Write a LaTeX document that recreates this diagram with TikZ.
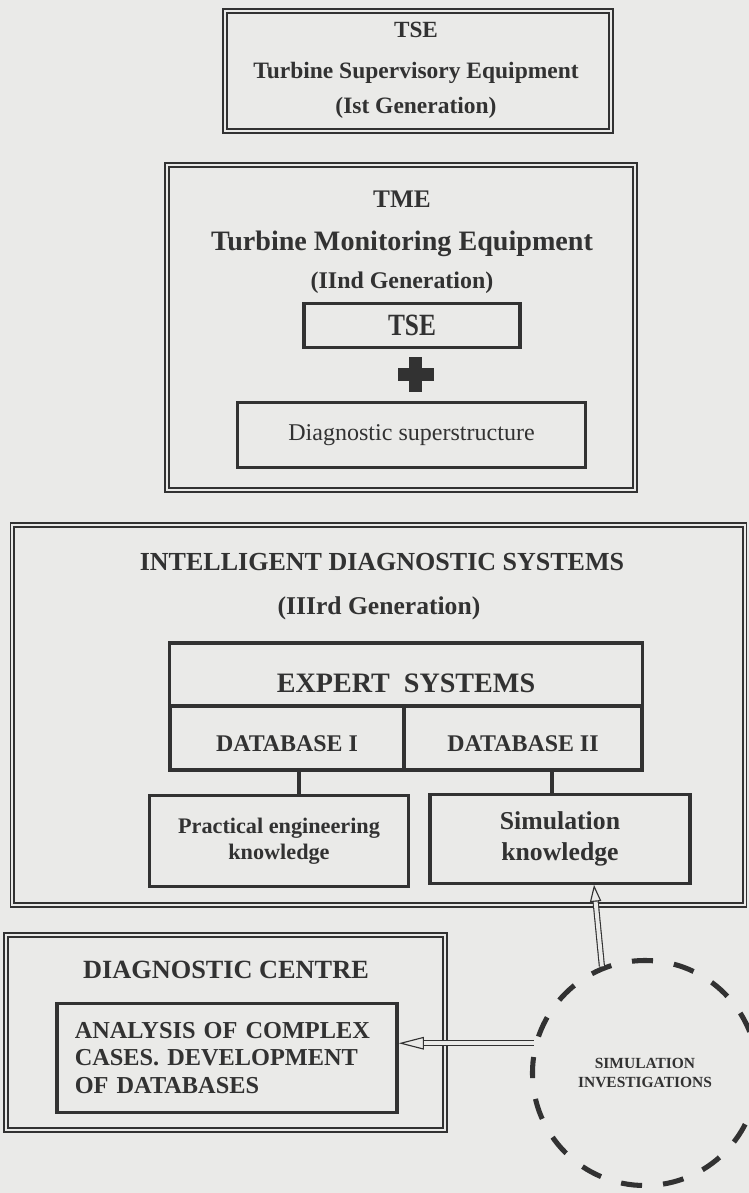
\documentclass[tikz,border=0pt]{standalone}
\usepackage{fontspec}
\setmainfont{Liberation Serif}
\usetikzlibrary{calc,arrows.meta}
\definecolor{dgpaper}{RGB}{234,234,232}
\definecolor{dgink}{RGB}{50,50,50}
\newcommand{\dgsize}[2]{\fontsize{#1}{#2}\selectfont}

\begin{document}
\begin{tikzpicture}[x=0.025cm,y=-0.025cm,
  text=dgink,
  dgframe/.style={draw=dgink,double=dgpaper,double distance=1.5pt,line width=1.1pt,inner sep=0pt},
  blk/.style={draw=dgink,line width=2.5pt,inner sep=0pt,align=center},
  cell/.style={draw=dgink,line width=2.2pt,inner sep=0pt,align=center},
  ttl/.style={anchor=base,inner sep=0pt},
  link/.style={dgink,line width=2.2pt},
  hollow/.style={draw=dgink,double=dgpaper,double distance=2.8pt,line width=0.8pt}]

% ================= PAPER =================
\fill[dgpaper] (0,0) rectangle (749,1193);
\useasboundingbox (0,0) rectangle (749,1193);

% ================= Ist GENERATION =================
\node[dgframe,minimum width=9.65cm,minimum height=3cm] (tse1) at (418,71) {};
\node[ttl,font=\bfseries\dgsize{16.5}{20}] (tse1abbr) at (416,37) {TSE};
\node[ttl,font=\bfseries\dgsize{16.7}{20}] (tse1name) at (416,78) {Turbine Supervisory Equipment};
\node[ttl,font=\bfseries\dgsize{16.7}{20}] (tse1gen) at (416,113) {(Ist Generation)};

% ================= IInd GENERATION =================
\node[dgframe,minimum width=11.7cm,minimum height=8.125cm] (tme) at (401,327.5) {};
\node[ttl,font=\bfseries\dgsize{18}{22}] (tmeabbr) at (402,207) {TME};
\node[ttl,font=\bfseries\dgsize{20}{24}] (tmename) at (402,250) {Turbine Monitoring Equipment};
\node[ttl,font=\bfseries\dgsize{17}{20}] (tmegen) at (402,288) {(IInd Generation)};
\node[blk,minimum width=5.4cm,minimum height=1.1cm,font=\bfseries\dgsize{22}{26}] (tse2) at (412,325.5) {\scalebox{0.82}[1]{TSE}};
\fill[dgink] (409,357) rectangle (422,392);
\fill[dgink] (398,368) rectangle (434,381);
\node[blk,minimum width=8.7cm,minimum height=1.625cm,font=\dgsize{17.1}{20}] (diag) at (411.5,435) {Diagnostic superstructure};

% ================= IIIrd GENERATION =================
\node[dgframe,minimum width=18.3cm,minimum height=9.5cm] (ids) at (378.5,715) {};
\node[ttl,font=\bfseries\dgsize{18.5}{22}] (idsname) at (382,570) {INTELLIGENT DIAGNOSTIC SYSTEMS};
\node[ttl,font=\bfseries\dgsize{18.2}{22}] (idsgen) at (379,614) {(IIIrd Generation)};

\node[cell,minimum width=11.8cm,minimum height=1.575cm,text height=25pt,text depth=0pt,font=\bfseries\dgsize{20}{24}] (es) at (406,674.5) {EXPERT\ \ SYSTEMS};
\node[cell,minimum width=5.85cm,minimum height=1.6cm,text height=19.8pt,text depth=0pt,font=\bfseries\dgsize{17}{20}] (db1) at (287,738) {DATABASE I};
\node[cell,minimum width=5.95cm,minimum height=1.6cm,text height=19.8pt,text depth=0pt,font=\bfseries\dgsize{17}{20}] (db2) at (523,738) {DATABASE II};

\node[cell,minimum width=6.46cm,minimum height=2.29cm,font=\bfseries\dgsize{15.8}{18.5}] (prac) at (279,841) {Practical engineering\\knowledge};
\node[cell,minimum width=6.5cm,minimum height=2.2125cm,font=\bfseries\dgsize{18.3}{22}] (sim) at (560,839) {Simulation\\knowledge};

\coordinate (leg1) at ($(db1.south)+(12,0)$);
\coordinate (leg2) at ($(db2.south)+(29,0)$);
\draw[link] (leg1) -- (leg1 |- prac.north);
\draw[link] (leg2) -- (leg2 |- sim.north);

% ================= DIAGNOSTIC CENTRE =================
\node[dgframe,minimum width=10.975cm,minimum height=4.875cm] (dc) at (225.5,1032.5) {};
\node[ttl,font=\bfseries\dgsize{18.7}{22}] (dcname) at (226,978) {DIAGNOSTIC CENTRE};
\node[blk,minimum width=8.49cm,minimum height=2.725cm,text width=7.61cm,align=left,font=\bfseries\dgsize{17.3}{19.6}] (ana) at (227,1058) {ANALYSIS OF COMPLEX\\CASES. DEVELOPMENT\\OF DATABASES};

% ================= SIMULATION =================
\node[circle,draw=dgink,line width=3.6pt,dash pattern=on 15pt off 15pt,minimum size=5.625cm,inner sep=0pt,align=center,font=\bfseries\dgsize{11}{13}] (simcirc) at (645,1073) {SIMULATION\\INVESTIGATIONS};

\draw[hollow,-{Triangle[open,length=18pt,width=9pt]}] (simcirc.165) -- (simcirc.165 -| ana.east);
\draw[hollow,-{Triangle[open,length=12pt,width=8pt]}] (simcirc.112) -- ($(sim.south)+(34,0)$);
\end{tikzpicture}
\end{document}
